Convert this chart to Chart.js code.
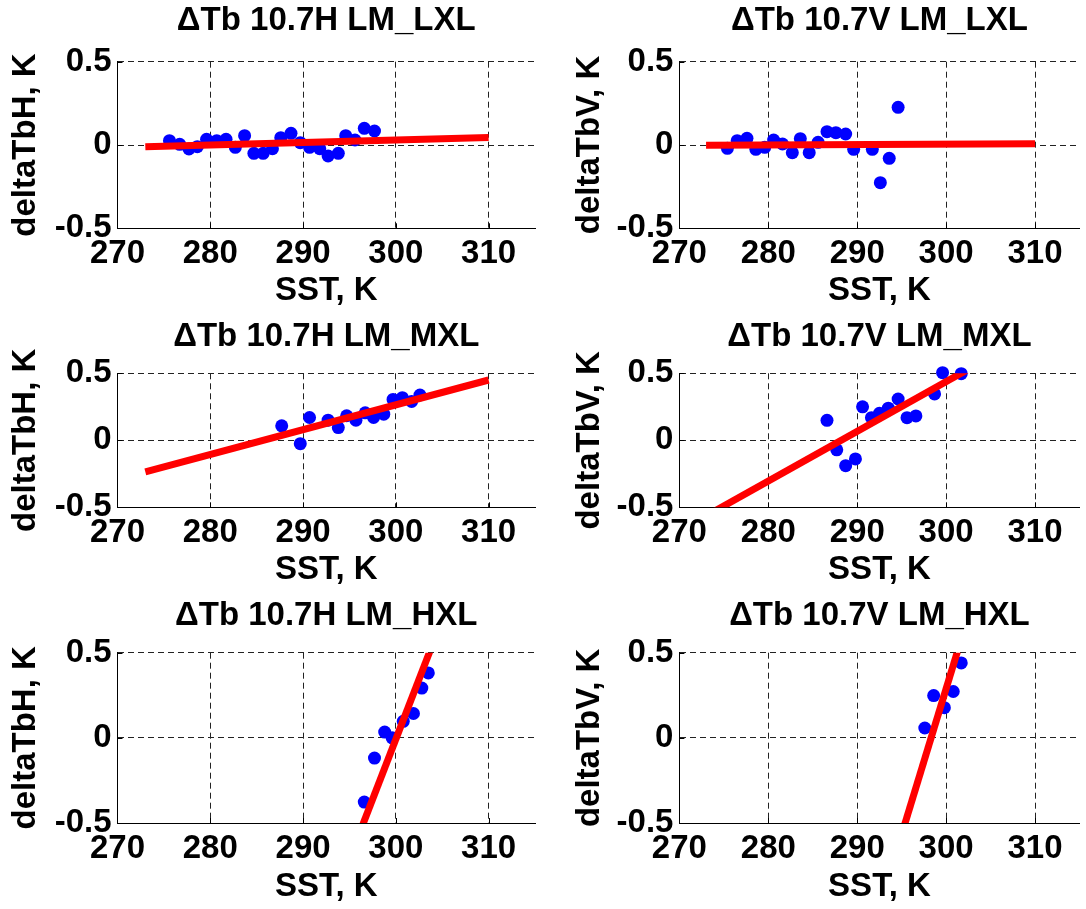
<!DOCTYPE html>
<html><head><meta charset="utf-8">
<script src="https://cdn.jsdelivr.net/npm/chart.js@4.4.0/dist/chart.umd.min.js"></script>
<style>
html,body{margin:0;padding:0;background:#fff;width:1086px;height:909px;overflow:hidden;position:relative}
</style></head><body>
<script>
// ---------- data ----------
const xTicks = [270, 280, 290, 300, 310];
const yTicks = [-0.5, 0, 0.5];
const xLabel = 'SST, K';
const yLabelH = 'deltaTbH, K';
const yLabelV = 'deltaTbV, K';

const titleLxlH = 'ΔTb 10.7H LM_LXL';
const titleLxlV = 'ΔTb 10.7V LM_LXL';
const titleMxlH = 'ΔTb 10.7H LM_MXL';
const titleMxlV = 'ΔTb 10.7V LM_MXL';
const titleHxlH = 'ΔTb 10.7H LM_HXL';
const titleHxlV = 'ΔTb 10.7V LM_HXL';

const sstLxlH = [275.6, 276.7, 277.7, 278.6, 279.6, 280.7, 281.7, 282.7, 283.7, 284.7, 285.7, 286.7, 287.6, 288.7, 289.7, 290.7, 291.8, 292.7, 293.8, 294.6, 295.6, 296.6, 297.7];
const dtbLxlH = [0.026, 0.004, -0.024, -0.010, 0.034, 0.026, 0.034, -0.014, 0.056, -0.050, -0.050, -0.022, 0.044, 0.070, 0.014, -0.014, -0.022, -0.066, -0.050, 0.056, 0.030, 0.100, 0.084];
const fitXLxlH = [273, 310];
const fitYLxlH = [-0.011, 0.045];

const sstLxlV = [275.4, 276.5, 277.6, 278.6, 279.6, 280.6, 281.6, 282.7, 283.6, 284.6, 285.6, 286.6, 287.6, 288.7, 289.6, 291.7, 292.6, 293.6, 294.6];
const dtbLxlV = [-0.020, 0.026, 0.040, -0.026, -0.014, 0.030, 0.006, -0.046, 0.038, -0.046, 0.016, 0.080, 0.074, 0.066, -0.026, -0.026, -0.226, -0.080, 0.226];
const fitXLxlV = [273, 310];
const fitYLxlV = [-0.002, 0.008];

const sstMxlH = [287.7, 289.7, 290.7, 292.7, 293.8, 294.7, 295.7, 296.7, 297.6, 298.7, 299.7, 300.7, 301.7, 302.6];
const dtbMxlH = [0.108, -0.025, 0.170, 0.150, 0.095, 0.183, 0.150, 0.205, 0.170, 0.195, 0.305, 0.318, 0.290, 0.338];
const fitXMxlH = [273, 310];
const fitYMxlH = [-0.235, 0.450];

const sstMxlV = [286.6, 287.7, 288.7, 289.8, 290.6, 291.6, 292.5, 293.5, 294.6, 295.6, 296.6, 298.7, 299.6, 301.7];
const dtbMxlV = [0.149, -0.071, -0.189, -0.139, 0.250, 0.169, 0.202, 0.240, 0.308, 0.169, 0.182, 0.346, 0.505, 0.497];
const fitXMxlV = [273, 310];
const fitYMxlV = [-0.564, 0.809];

const sstHxlH = [296.6, 297.7, 298.8, 299.6, 300.8, 301.9, 302.8, 303.5];
const dtbHxlH = [-0.377, -0.119, 0.034, 0.000, 0.097, 0.143, 0.292, 0.381];
const fitXHxlH = [273, 310];
const fitYHxlH = [-3.81, 1.40];

const sstHxlV = [297.6, 298.6, 299.8, 300.8, 301.7];
const dtbHxlV = [0.058, 0.248, 0.177, 0.272, 0.440];
const fitXHxlV = [273, 310];
const fitYHxlV = [-4.33, 2.00];

// ---------- layout / style ----------
const FAMILY = "'Liberation Sans', Arial, Helvetica, sans-serif";
const FS = 33, LH = FS * 1.2;
const ROWS = [
  {y: 0,   h: 312, titleC: 21,    plotTop: 61.7,  plotBot: 228.3, xTitleC: 291},
  {y: 312, h: 280, titleC: 337,   plotTop: 373.3, plotBot: 507.3, xTitleC: 570},
  {y: 592, h: 317, titleC: 615.5, plotTop: 652.7, plotBot: 823,   xTitleC: 886.5}
];
const COLS = [
  {x: 0,   w: 545, plotL: 117.5, plotR: 535,  yTitleC: 26},
  {x: 545, w: 541, plotL: 679.4, plotR: 1084, yTitleC: 590}
];

const innerTicks = {
  id: 'innerTicks',
  beforeDatasetsDraw(chart) {
    const {ctx, chartArea: a, scales: {x, y}} = chart;
    ctx.save();
    ctx.strokeStyle = '#000';
    ctx.lineWidth = 1;
    ctx.beginPath();
    xTicks.forEach(v => {
      if (v <= x.min) return;
      const px = Math.round(x.getPixelForValue(v)) + 0.5;
      ctx.moveTo(px, a.bottom); ctx.lineTo(px, a.bottom - 5);
    });
    yTicks.forEach(v => {
      if (v <= y.min) return;
      const py = Math.round(y.getPixelForValue(v)) + 0.5;
      ctx.moveTo(a.left, py); ctx.lineTo(a.left + 5, py);
    });
    ctx.stroke();
    ctx.restore();
  }
};

function panel(col, row, title, yLabel, sst, dtb, fitX, fitY) {
  const C = COLS[col], R = ROWS[row];
  const c = document.createElement('canvas');
  c.width = C.w; c.height = R.h;
  c.style.cssText = `position:absolute;left:${C.x}px;top:${R.y}px;width:${C.w}px;height:${R.h}px`;
  document.body.appendChild(c);
  const font = {family: FAMILY, size: FS, weight: 'bold', lineHeight: 1.2};
  const tPadTop = (R.titleC - R.y) - LH / 2;
  const tPadBot = (R.plotTop - R.y) - LH - tPadTop;
  const xPadBot = (R.y + R.h) - R.xTitleC - LH / 2;
  const yPadTop = (C.yTitleC - C.x) - LH / 2;
  new Chart(c, {
    type: 'scatter',
    data: {
      datasets: [
        {type: 'line', data: fitX.map((v, i) => ({x: v, y: fitY[i]})), borderColor: '#ff0000',
         borderWidth: 7, pointRadius: 0, fill: false, tension: 0, clip: 0, order: 0},
        {type: 'scatter', data: sst.map((v, i) => ({x: v, y: dtb[i]})), backgroundColor: '#0000ff',
         pointBackgroundColor: '#0000ff', pointRadius: 6.5, pointBorderWidth: 0, borderWidth: 0, clip: false, order: 1}
      ]
    },
    options: {
      responsive: false, animation: false, devicePixelRatio: 1, events: [],
      layout: {padding: {left: 0, top: 0, bottom: 0, right: C.w - (C.plotR - C.x)}},
      plugins: {
        legend: {display: false}, tooltip: {enabled: false},
        title: {display: true, text: title, fullSize: false, color: '#000', font,
                padding: {top: tPadTop, bottom: tPadBot}}
      },
      scales: {
        x: {
          type: 'linear', min: 270, max: 315,
          afterBuildTicks(s) { s.ticks = xTicks.map(v => ({value: v})); },
          afterFit(s) { s.height = (R.y + R.h) - R.plotBot; },
          ticks: {padding: 6, color: '#000', font, maxRotation: 0, autoSkip: false},
          grid: {color: '#222', lineWidth: 1, drawTicks: false},
          border: {display: true, color: '#000', width: 1, dash: [6, 4]},
          title: {display: true, text: xLabel, color: '#000', font, padding: {top: 0, bottom: xPadBot}}
        },
        y: {
          type: 'linear', min: -0.5, max: 0.5,
          afterBuildTicks(s) { s.ticks = yTicks.map(v => ({value: v})); },
          afterFit(s) { s.width = C.plotL - C.x; },
          ticks: {padding: 6, color: '#000', font, autoSkip: false},
          grid: {color: '#222', lineWidth: 1, drawTicks: false},
          border: {display: true, color: '#000', width: 1, dash: [6, 4]},
          title: {display: true, text: yLabel, color: '#000', font, padding: {top: yPadTop, bottom: 0}}
        }
      }
    },
    plugins: [innerTicks]
  });
}

panel(0, 0, titleLxlH, yLabelH, sstLxlH, dtbLxlH, fitXLxlH, fitYLxlH);
panel(1, 0, titleLxlV, yLabelV, sstLxlV, dtbLxlV, fitXLxlV, fitYLxlV);
panel(0, 1, titleMxlH, yLabelH, sstMxlH, dtbMxlH, fitXMxlH, fitYMxlH);
panel(1, 1, titleMxlV, yLabelV, sstMxlV, dtbMxlV, fitXMxlV, fitYMxlV);
panel(0, 2, titleHxlH, yLabelH, sstHxlH, dtbHxlH, fitXHxlH, fitYHxlH);
panel(1, 2, titleHxlV, yLabelV, sstHxlV, dtbHxlV, fitXHxlV, fitYHxlV);
</script>
</body></html>
